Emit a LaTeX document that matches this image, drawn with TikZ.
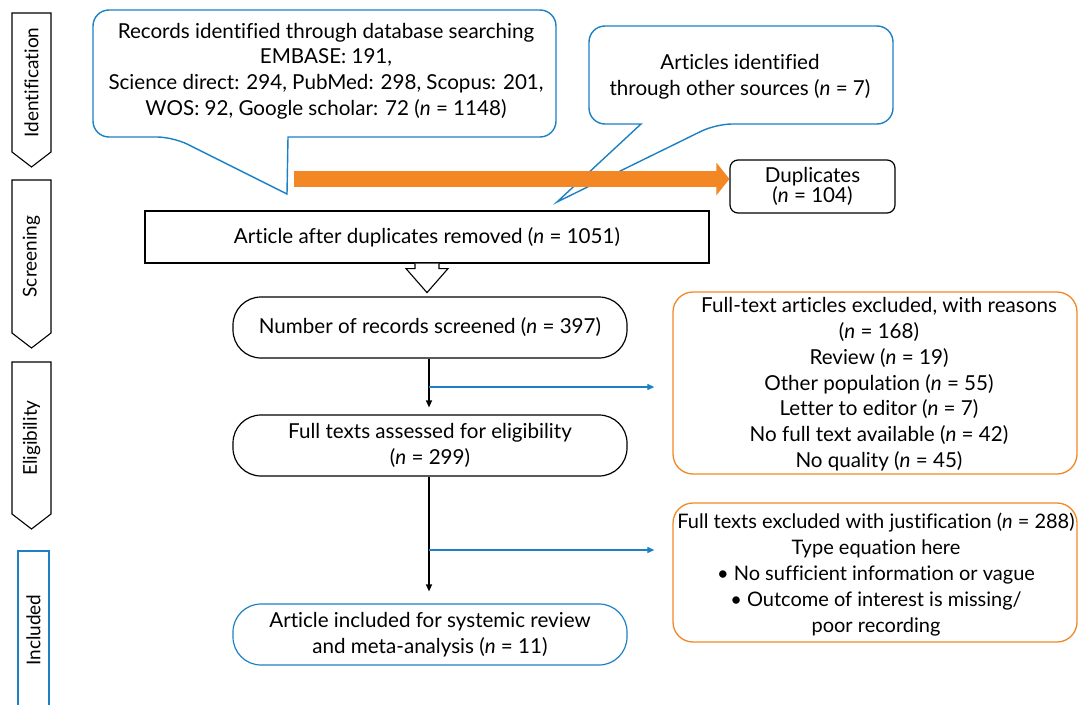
\documentclass[tikz,border=0pt]{standalone}
\usepackage{fontspec}
\setmainfont{Lato}[Ligatures=NoCommon]
\usepackage{tikz}
\usetikzlibrary{arrows.meta,positioning,calc}
\definecolor{prismablue}{RGB}{28,128,196}
\definecolor{prismaorange}{RGB}{242,135,36}

\begin{document}
\begin{tikzpicture}[x=1pt,y=-1pt,
    txt/.style={font=\fontsize{20.6}{25.8}\selectfont, align=center, inner sep=0pt},
    stage/.style={draw=black, line width=1.1pt, line join=miter},
    stagetxt/.style={font=\fontsize{19}{20}\selectfont, rotate=90, inner sep=0pt},
    callout/.style={draw=prismablue, line width=1.4pt, fill=white},
    plainbox/.style={txt, draw=black, line width=1.2pt},
    stadium/.style={txt, draw=black, line width=1.2pt, rounded corners=28pt,
                    minimum width=394pt, minimum height=61pt},
    exclbox/.style={txt, draw=prismaorange, line width=1.3pt, rounded corners=20pt},
    flow/.style={draw=black, line width=1.2pt, -{Triangle[length=7pt,width=6pt]}},
    branch/.style={draw=prismablue, line width=1.2pt, -{Triangle[length=7pt,width=6pt]}},
    dupline/.style={draw=prismaorange, line width=16pt, -{Triangle[length=13pt,width=32pt]}}
  ]
  \useasboundingbox (0,0) rectangle (1078,704);

  %stage labels
  \foreach \name/\ytop/\ybot in {Identification/13/152, Screening/180/333, Eligibility/362/514}{
    \draw[stage] (12,\ytop) -- (51,\ytop) -- (51,\ybot) -- (31.5,\ybot+15) -- (12,\ybot) -- cycle;
    \node[stagetxt] (\name) at (31.5,{(\ytop+\ybot)/2}) {\name};
  }
  \draw[draw=prismablue, line width=1.2pt] (18,551) rectangle (49,712);
  \node[stagetxt] (Included) at (33.5,630) {Included};

  %identification callouts
  \draw[callout] (288,137) [rounded corners=16pt] -- (556,137) -- (556,10) -- (93,10) -- (93,137)
     -- (173,137) [sharp corners] -- (287,194) -- cycle;
  \node[txt] (records) at (326,71) {Records identified through database searching\\
     EMBASE: 191,\\
     Science direct: 294, PubMed: 298, Scopus: 201,\\
     WOS: 92, Google scholar: 72 (\textit{n} = 1148)};

  \draw[callout] (641,124) [rounded corners=16pt] -- (589,124) -- (589,26) -- (893,26) -- (893,124)
     -- (716,124) [sharp corners] -- (557,202) -- cycle;
  \node[txt] (other) at (740,77) {Articles identified\\ through other sources (\textit{n} = 7)};

  %duplicates
  \node[txt, draw=black, line width=1.2pt, rounded corners=8pt, minimum width=165pt,
        minimum height=53pt] (dup) at (812.5,186.5) {Duplicates\\[-6pt] (\textit{n} = 104)};
  \coordinate (dupstart) at (294,179);
  \draw[dupline] (dupstart) -- (dupstart -| dup.west);

  \node[plainbox, minimum width=564pt, minimum height=52pt] (dedup) at (427,237)
     {Article after duplicates removed (\textit{n} = 1051)};

  %hollow arrow
  \draw[line width=1.1pt, fill=white] (dedup.south) ++(-12,0) -- ++(0,5) -- ++(-9,0) -- ++(21,24)
     -- ++(21,-24) -- ++(-9,0) -- ++(0,-5);

  %main column
  \node[stadium] (screened) at (430,327.5) {Number of records screened (\textit{n} = 397)};
  \node[stadium] (assessed) at (430,445.5) {Full texts assessed for eligibility\\ (\textit{n} = 299)};
  \node[stadium, draw=prismablue] (included) at (430,634.5)
     {Article included for systemic review\\ and meta-analysis (\textit{n} = 11)};

  %exclusions
  \node[exclbox, minimum width=404pt, minimum height=182pt] (excl1) at (875,383) {};
  \node[txt, anchor=north] (excl1text) at ($(excl1.north)+(4,6)$) {Full-text articles excluded, with reasons\\
     (\textit{n} = 168)\\
     Review (\textit{n} = 19)\\
     Other population (\textit{n} = 55)\\
     Letter to editor (\textit{n} = 7)\\
     No full text available (\textit{n} = 42)\\
     No quality (\textit{n} = 45)};
  \node[exclbox, minimum width=404pt, minimum height=139pt] (excl2) at (875,572.5) {};
  \node[txt, font=\fontsize{20}{25.8}\selectfont] (excl2text) at (876,574.5)
     {Full texts excluded with justification (\textit{n} = 288)\\
     Type equation here\\
     • No sufficient information or vague\\
     • Outcome of interest is missing/\\
     poor recording};

  %connectors
  \draw[flow, shorten >=7pt] (screened.south -| 429,0) -- (assessed.north -| 429,0);
  \draw[flow, shorten >=12pt] (assessed.south -| 429,0) -- (included.north -| 429,0);
  \coordinate (br1) at (429,387);
  \coordinate (br2) at (429,550);
  \draw[branch, shorten >=18pt] (br1) -- (br1 -| excl1.west);
  \draw[branch, shorten >=18pt] (br2) -- (br2 -| excl2.west);
\end{tikzpicture}
\end{document}
